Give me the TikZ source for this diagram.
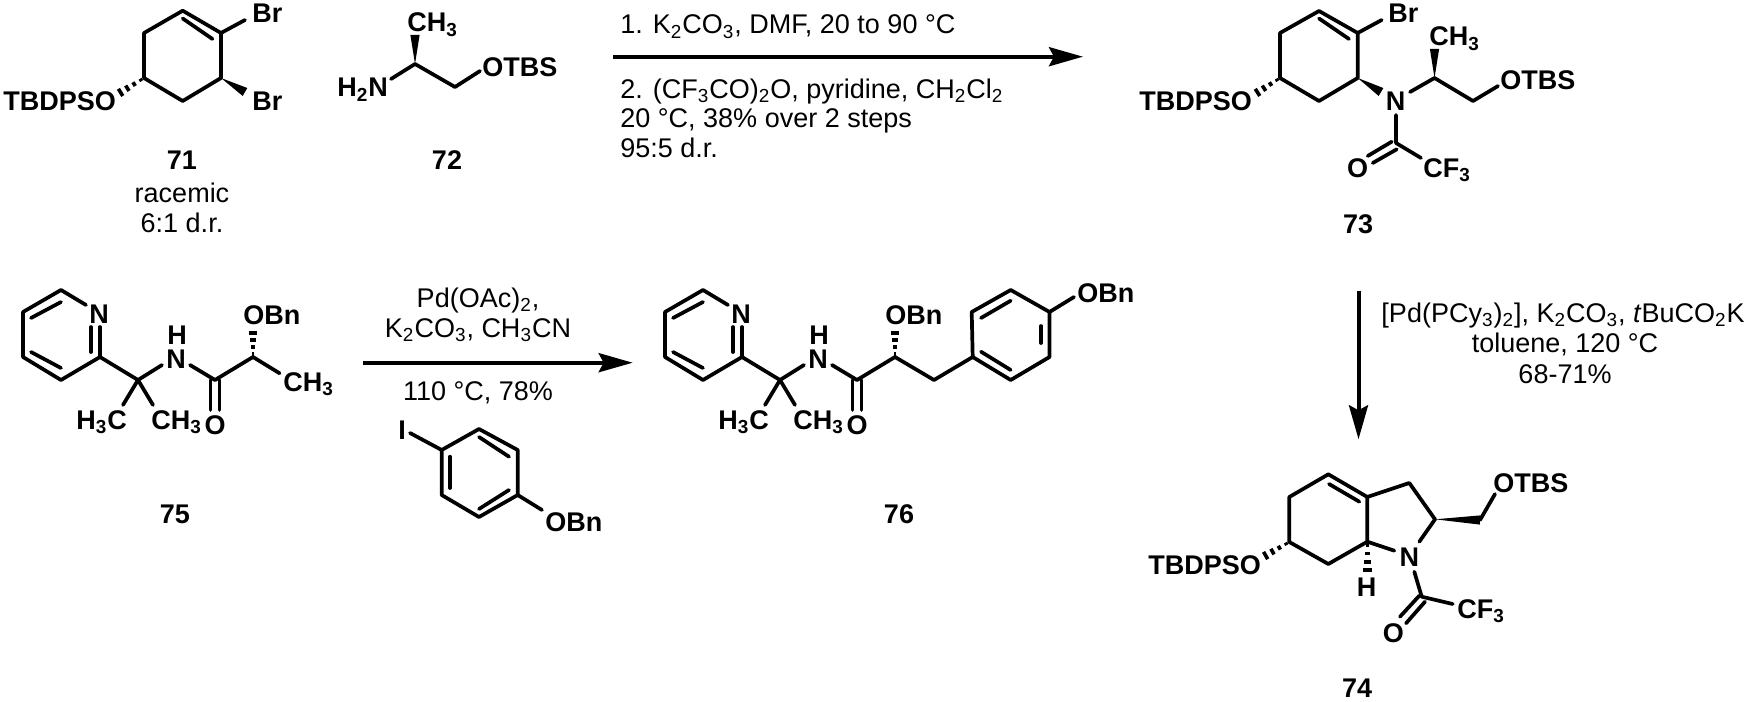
\documentclass[tikz,border=0pt]{standalone}
\usepackage{fontspec}
\setmainfont{Liberation Sans}
\usetikzlibrary{arrows.meta,calc}
\tikzset{font=\fontsize{13.5}{15}\selectfont}
\tikzset{bond/.style={line width=1.85pt,line cap=round,line join=round}}
\tikzset{hashline/.style={line width=1.8pt}}
\tikzset{rxn/.style={line width=2pt,-{Stealth[length=17pt,width=9.5pt,inset=2.5pt]}}}
\tikzset{atom/.style={font=\fontsize{13.5}{15}\selectfont\bfseries,inner sep=0pt,anchor=base west}}
\tikzset{cmpd/.style={font=\fontsize{13.5}{15}\selectfont\bfseries,inner sep=0pt,anchor=base}}
\tikzset{cond/.style={inner sep=0pt,anchor=base}}
\tikzset{condl/.style={inner sep=0pt,anchor=base west}}
\newcommand{\su}[1]{\textsubscript{#1}}
\newcommand{\wedgebond}[2]{\fill #1 -- ($#2!2.3pt!90:#1$) -- ($#2!2.3pt!-90:#1$) -- cycle;}
\newcommand{\hashbond}[2]{%
  \foreach \t/\w in {.12/.7pt,.38/1.1pt,.64/1.6pt,.9/2.1pt}{
    \coordinate (hp) at ($#1!\t!#2$);
    \draw[hashline] ($(hp)!\w!90:#2$) -- ($(hp)!\w!-90:#2$);
  }}
% the pyridyl amide shared by 75 and 76
\newcommand{\pyamide}{%
  \coordinate (p1) at (703,290);
  \coordinate (p2) at (665,312);
  \coordinate (p3) at (665,357);
  \coordinate (p4) at (703,380);
  \coordinate (p5) at (742,357);
  \coordinate (q) at (780,380);
  \coordinate (co) at (857,380);
  \coordinate (cs) at (895,357);
  \node[atom,anchor=base] (pyn) at (741,323) {N};
  \node[atom,anchor=base] (nh) at (818,368) {N};
  \node[atom,anchor=base] (hh) at (819,344) {H};
  \node[atom] (me1) at (718,429) {H\su{3}C};
  \node[atom] (me2) at (793,429) {CH\su{3}};
  \node[atom,anchor=base] (oo) at (857,434) {O};
  \node[atom] (obn) at (885,324) {OBn};
  \draw[bond] (728,305) -- (p1) -- (p2) -- (p3) -- (p4) -- (p5) -- (q) -- (804,365);
  \draw[bond] (p5) -- (742,327);
  \draw[bond] (733,352) -- (733,327);
  \draw[bond] (673,318) -- (703,302);
  \draw[bond] (673,352) -- (703,368);
  \draw[bond] (q) -- (765,405);
  \draw[bond] (q) -- (795,405);
  \draw[bond] (832,365) -- (co) -- (cs);
  \draw[bond] (852.5,380) -- (852.5,410);
  \draw[bond] (861.5,380) -- (861.5,410);
  \hashbond{(cs)}{(895,330)}
}
\begin{document}
\begin{tikzpicture}[x=.5pt,y=-.5pt]
  \useasboundingbox (0,0) rectangle (1759,701);

  % 71
  \coordinate (a1) at (182.7,10.7);
  \coordinate (a2) at (221,33);
  \coordinate (a3) at (221,78);
  \coordinate (a4) at (182.7,101);
  \coordinate (a5) at (144,78);
  \coordinate (a6) at (144,33);
  \draw[bond] (a1) -- (a2) -- (a3) -- (a4) -- (a5) -- (a6) -- cycle;
  \draw[bond] (182.7,18.5) -- (212.5,39);
  \draw[bond] (a2) -- (245,20);
  \wedgebond{(a3)}{(245,92)}
  \hashbond{(a5)}{(118,94)}
  \node[atom] (br1) at (252,23) {Br};
  \node[atom] (br2) at (252,111) {Br};
  \node[atom] (tb1) at (3,111) {TBDPSO};
  \node[cmpd] (n71) at (182,169) {71};
  \node[cond] (rac) at (182,202) {racemic};
  \node[cond] (dr71) at (182,232) {6:1 d.r.};

  % 72
  \coordinate (b1) at (415,64);
  \coordinate (b2) at (455,87);
  \draw[bond] (391,79) -- (b1) -- (b2) -- (480,71);
  \wedgebond{(b1)}{(415,35)}
  \node[atom] (me72) at (407,32) {CH\su{3}};
  \node[atom] (nh2) at (337,97) {H\su{2}N};
  \node[atom] (ot72) at (482,76) {OTBS};
  \node[cmpd] (n72) at (447,169) {72};

  % first arrow
  \coordinate (r1s) at (613,56.7);
  \coordinate (r1e) at (1083,56.7);
  \draw[rxn] (r1s) -- (r1e);
  \node[condl] (c1) at (620,34) {1. K\su{2}CO\su{3}, DMF, 20 to 90 °C};
  \node[condl] (c2) at (620,98) {2. (CF\su{3}CO)\su{2}O, pyridine, CH\su{2}Cl\su{2}};
  \node[condl] (c3) at (620,127) {20 °C, 38\% over 2 steps};
  \node[condl] (c4) at (620,157) {95:5 d.r.};

  % 73
  \coordinate (d1) at (1319,11);
  \coordinate (d2) at (1357.7,33);
  \coordinate (d3) at (1357.7,78);
  \coordinate (d4) at (1319,101);
  \coordinate (d5) at (1280,78);
  \coordinate (d6) at (1280,33);
  \coordinate (d7) at (1434.5,78);
  \coordinate (d8) at (1473,101);
  \coordinate (d9) at (1396,143);
  \draw[bond] (d1) -- (d2) -- (d3) -- (d4) -- (d5) -- (d6) -- cycle;
  \draw[bond] (1319,18.5) -- (1349,39);
  \draw[bond] (d2) -- (1381.7,20);
  \wedgebond{(d3)}{(1381,92)}
  \hashbond{(d5)}{(1255,94)}
  \draw[bond] (1410,92) -- (d7) -- (d8) -- (1498,86);
  \wedgebond{(d7)}{(1434.5,49)}
  \draw[bond] (1396,115) -- (d9) -- (1421,158);
  \draw[bond] (1391.7,141.7) -- (1367.7,156);
  \draw[bond] (1396.7,149.3) -- (1372.7,163);
  \node[atom] (br3) at (1388,23) {Br};
  \node[atom] (tb3) at (1139,111) {TBDPSO};
  \node[atom,anchor=base] (n3) at (1395.7,111) {N};
  \node[atom] (me73) at (1429,46) {CH\su{3}};
  \node[atom] (ot73) at (1500,90) {OTBS};
  \node[atom,anchor=base] (o3) at (1357.7,177) {O};
  \node[atom] (cf3) at (1423,177) {CF\su{3}};
  \node[cmpd] (n73) at (1358,233) {73};

  % second arrow
  \coordinate (r2s) at (1358.5,290.7);
  \coordinate (r2e) at (1358.5,439.3);
  \draw[rxn] (r2s) -- (r2e);
  \node[cond] (e1) at (1563,322) {[Pd(PCy\su{3})\su{2}], K\su{2}CO\su{3}, \textit{t}BuCO\su{2}K};
  \node[cond] (e2) at (1565,352) {toluene, 120 °C};
  \node[cond] (e3) at (1565,383) {68-71\%};

  % 74
  \coordinate (f1) at (1328.3,474.3);
  \coordinate (f2) at (1367.3,497);
  \coordinate (f3) at (1367.3,541.7);
  \coordinate (f4) at (1328.3,564);
  \coordinate (f5) at (1289.3,542);
  \coordinate (f6) at (1289.3,497);
  \coordinate (f7) at (1409.3,483);
  \coordinate (f8) at (1435,519.3);
  \coordinate (f9) at (1480,520);
  \coordinate (f10) at (1421.7,596.7);
  \draw[bond] (f1) -- (f2) -- (f3) -- (f4) -- (f5) -- (f6) -- cycle;
  \draw[bond] (1329,484) -- (1359.3,501.7);
  \draw[bond] (f2) -- (f7) -- (f8) -- (1419.3,541.7);
  \draw[bond] (f3) -- (1394.3,550.7);
  \wedgebond{(f8)}{(f9)}
  \draw[bond] (f9) -- (1495,494);
  \hashbond{(f5)}{(1263,557)}
  \hashbond{(f3)}{(1367.3,573)}
  \draw[bond] (1414.3,571.7) -- (f10) -- (1452.7,604);
  \draw[bond] (1419.3,595.7) -- (1400,616.7);
  \draw[bond] (1425,601.7) -- (1406,623.3);
  \node[atom] (tb4) at (1148,574) {TBDPSO};
  \node[atom,anchor=base] (hh4) at (1366.7,596) {H};
  \node[atom,anchor=base] (n4) at (1409.3,566) {N};
  \node[atom] (ot74) at (1493,492) {OTBS};
  \node[atom,anchor=base] (o4) at (1393.3,642) {O};
  \node[atom] (cf4) at (1457,618) {CF\su{3}};
  \node[cmpd] (n74) at (1357,697) {74};

  % 75
  \begin{scope}[shift={(-642,0)}]
    \pyamide
    \draw[bond] (cs) -- (921.6,373.3);
    \node[atom] (me75) at (925,391) {CH\su{3}};
    \node[cmpd] (n75) at (817,523) {75};
  \end{scope}

  % third arrow with the iodide under it
  \coordinate (r3s) at (363,362.7);
  \coordinate (r3e) at (632.7,362.7);
  \draw[rxn] (r3s) -- (r3e);
  \node[cond] (g1) at (478,307) {Pd(OAc)\su{2},};
  \node[cond] (g2) at (478,337) {K\su{2}CO\su{3}, CH\su{3}CN};
  \node[cond] (g3) at (478,400) {110 °C, 78\%};
  \coordinate (h1) at (479,429);
  \coordinate (h2) at (517.7,450);
  \coordinate (h3) at (517.7,495);
  \coordinate (h4) at (479,517);
  \coordinate (h5) at (441.7,495);
  \coordinate (h6) at (441.7,450);
  \draw[bond] (h1) -- (h2) -- (h3) -- (h4) -- (h5) -- (h6) -- cycle;
  \draw[bond] (479,437) -- (509,456.7);
  \draw[bond] (450,456.7) -- (450,488);
  \draw[bond] (479,509) -- (509,490);
  \draw[bond] (h6) -- (410,433);
  \draw[bond] (h3) -- (542,510);
  \node[atom,anchor=base] (io) at (402,439) {I};
  \node[atom] (ob3) at (545,531) {OBn};

  % 76
  \pyamide
  \coordinate (k1) at (934,380);
  \coordinate (k2) at (972.7,357);
  \coordinate (k3) at (971.7,312);
  \coordinate (k4) at (1010.7,290);
  \coordinate (k5) at (1049.5,312);
  \coordinate (k6) at (1049.5,357);
  \coordinate (k7) at (1010.7,380);
  \draw[bond] (cs) -- (k1) -- (k2) -- (k3) -- (k4) -- (k5) -- (k6) -- (k7) -- (k2);
  \draw[bond] (981,318) -- (1010.7,300.7);
  \draw[bond] (981,351.7) -- (1010.7,370);
  \draw[bond] (1041,326) -- (1041,343);
  \draw[bond] (k5) -- (1074,297);
  \node[atom] (ob4) at (1077,302) {OBn};
  \node[cmpd] (n76) at (899,523) {76};
\end{tikzpicture}
\end{document}
